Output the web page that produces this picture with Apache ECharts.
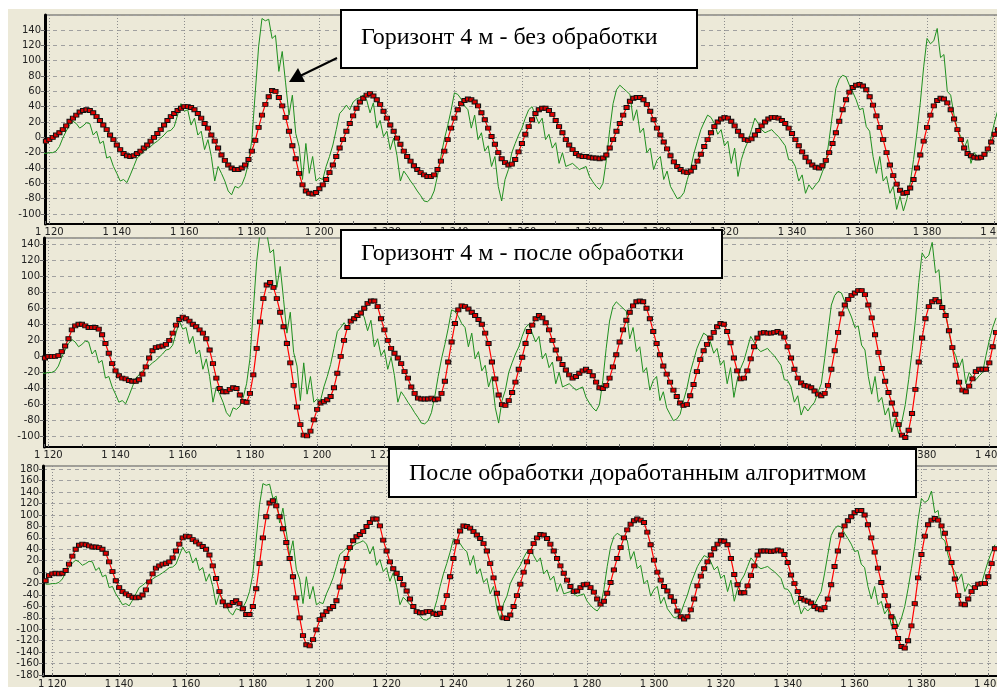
<!DOCTYPE html>
<html>
<head>
<meta charset="UTF-8">
<title>Горизонт 4 м</title>
<script src="https://cdn.jsdelivr.net/npm/echarts/dist/echarts.min.js"></script>
<style>
  html, body { margin: 0; padding: 0; background: #fff; }
  #bg { position: absolute; left: 8px; top: 9px; width: 989px; height: 678px; background: #ece9d8; }
  #main { position: absolute; left: 0; top: 0; width: 997px; height: 687px; }
</style>
</head>
<body>
<div id="bg"></div>
<div id="main"></div>
<script type="text/javascript">
// first sample is x = 1118, one sample per unit
var START_X = 1118;

// raw signal (green), the same in all three panels
var rawValues = [
  -21, -21, -20, -20, -18, -12, -1, 8, 16, 21,
  18, 12, 15, 19, 18, 3, 8, -8, -5, -27,
  -25, -38, -47, -57, -55, -59, -49, -38, -27, -23,
  -18, -15, -12, -8, -5, -1, 3, 8, 9, 14,
  29, 44, 34, 36, 16, 25, 3, 8, -16, -3,
  -25, -57, -38, -47, -57, -70, -75, -64, -66, -62,
  -51, -34, -3, 58, 118, 155, 152, 154, 129, 133,
  86, 112, 71, 29, 55, 5, -12, -55, -8, -47,
  -25, -57, -53, -55, -38, -25, -10, 10, 31, 36,
  42, 36, 46, 50, 52, 55, 49, 32, 45, 12,
  22, 1, 8, -16, -1, -24, -57, -44, -50, -57,
  -63, -70, -76, -83, -84, -80, -70, -50, -25, -3,
  15, 35, 58, 56, 50, 41, 36, 12, 29, -3,
  6, -18, -11, -38, -25, -64, -83, -55, -42, -20,
  -8, 3, 12, 25, 36, 40, 29, 18, 25, -3,
  4, -14, -7, -34, -20, -38, -36, -34, -38, -42,
  -40, -38, -51, -58, -64, -68, -60, -30, 10, 44,
  62, 68, 64, 60, 56, 22, 36, 6, 12, -20,
  -14, -42, -30, -25, -55, -44, -64, -72, -80, -78,
  -72, -55, -40, -20, -5, 10, 20, 29, 26, 18,
  4, 10, -11, -5, -34, -14, -51, -29, -15, -5,
  10, 25, 18, 10, 6, 8, 10, 5, 1, -5,
  -11, -29, -30, -38, -57, -49, -73, -62, -68, -62,
  -57, -45, -34, -3, 31, 64, 76, 81, 79, 68,
  59, 49, 36, 38, 14, 8, -25, -47, -25, -57,
  -51, -73, -64, -94, -77, -96, -81, -60, -29, 6,
  45, 92, 129, 122, 126, 142, 104, 108, 60, 55,
  29, 10, 1, -14, -3, -34, -20, -26, -29, -24,
  -20, 1, 20, 36, 48
];

// panel 1: без обработки
var red1 = [
  -7, -5, -3, 0, 3, 6, 10, 15, 21, 25,
  29, 33, 35, 36, 35, 32, 27, 22, 16, 10,
  3, -3, -10, -16, -21, -24, -25, -24, -21, -18,
  -14, -10, -5, 0, 5, 10, 16, 22, 27, 31,
  35, 38, 40, 40, 39, 36, 31, 25, 18, 12,
  3, -5, -14, -23, -30, -36, -40, -42, -42, -40,
  -36, -29, -18, -4, 13, 29, 43, 53, 61, 60,
  52, 41, 26, 8, -11, -28, -47, -62, -70, -73,
  -74, -72, -67, -62, -55, -46, -36, -25, -14, -3,
  8, 18, 28, 38, 46, 51, 55, 57, 54, 49,
  43, 34, 25, 16, 8, -1, -9, -18, -25, -31,
  -37, -42, -46, -49, -51, -51, -49, -42, -31, -18,
  -3, 12, 25, 36, 44, 48, 50, 49, 46, 41,
  32, 23, 12, 1, -9, -20, -28, -33, -36, -35,
  -29, -19, -8, 4, 14, 23, 31, 36, 38, 38,
  35, 30, 22, 14, 6, -3, -10, -16, -21, -24,
  -25, -25, -26, -27, -27, -28, -27, -23, -14, -3,
  8, 18, 29, 39, 47, 51, 52, 52, 49, 43,
  34, 23, 12, 3, -6, -15, -24, -32, -38, -42,
  -45, -46, -44, -39, -31, -22, -12, -3, 6, 14,
  20, 24, 26, 25, 21, 15, 8, 2, -3, -4,
  -2, 3, 9, 15, 20, 24, 26, 26, 25, 22,
  18, 12, 5, -3, -11, -19, -26, -32, -36, -39,
  -40, -37, -30, -20, -8, 6, 21, 36, 49, 59,
  65, 68, 69, 67, 62, 53, 42, 28, 13, -3,
  -20, -36, -50, -61, -69, -73, -72, -66, -55, -40,
  -23, -5, 13, 29, 41, 48, 51, 50, 45, 36,
  24, 10, -3, -14, -21, -24, -26, -27, -26, -22,
  -15, -6, 4, 10, 18
];

// panel 2: после обработки
var red2 = [
  -4, -2, 0, 0, 0, 1, 6, 13, 22, 33,
  38, 40, 40, 38, 36, 36, 36, 34, 27, 16,
  4, -9, -18, -24, -27, -28, -30, -31, -31, -29,
  -22, -13, -2, 7, 11, 12, 13, 15, 20, 29,
  39, 46, 49, 47, 44, 40, 37, 33, 29, 22,
  8, -9, -27, -40, -44, -44, -41, -39, -40, -48,
  -56, -57, -46, -23, 10, 43, 72, 89, 92, 86,
  72, 55, 37, 16, -8, -36, -63, -85, -98, -99,
  -93, -79, -66, -58, -56, -54, -50, -39, -21, 0,
  20, 36, 44, 47, 51, 54, 60, 66, 69, 69,
  62, 47, 33, 20, 10, 4, -2, -9, -19, -27,
  -38, -46, -52, -53, -53, -53, -52, -54, -53, -46,
  -31, -7, 18, 41, 58, 63, 62, 59, 55, 51,
  46, 40, 29, 16, -7, -28, -48, -60, -61, -55,
  -45, -32, -16, -1, 16, 31, 39, 47, 51, 48,
  42, 33, 20, 8, -3, -10, -17, -23, -27, -25,
  -21, -18, -16, -19, -24, -32, -39, -40, -36, -27,
  -13, 2, 18, 33, 45, 55, 63, 68, 69, 68,
  60, 47, 31, 16, 2, -12, -22, -32, -42, -50,
  -58, -61, -60, -49, -35, -19, -4, 7, 15, 23,
  30, 37, 41, 40, 31, 17, -2, -18, -28, -27,
  -18, -3, 12, 23, 29, 30, 29, 29, 30, 31,
  29, 24, 12, -2, -16, -27, -33, -36, -37, -39,
  -43, -47, -49, -46, -36, -16, 7, 30, 53, 64,
  71, 76, 79, 82, 82, 77, 64, 48, 27, 5,
  -15, -31, -45, -58, -72, -85, -98, -101, -92, -71,
  -41, -7, 23, 47, 62, 68, 71, 68, 61, 51,
  32, 11, -11, -32, -42, -44, -37, -28, -19, -16,
  -16, -16, -8, 12, 30
];

// panel 3: доработанный алгоритм
var red3 = [
  -15, -6, -3, -2, -3, -2, 3, 14, 28, 40,
  47, 49, 48, 46, 44, 44, 43, 40, 33, 18,
  1, -15, -27, -34, -38, -41, -44, -45, -44, -40,
  -31, -17, -3, 7, 11, 14, 15, 18, 25, 37,
  49, 60, 63, 62, 57, 53, 49, 45, 40, 30,
  11, -11, -34, -52, -59, -58, -53, -50, -55, -64,
  -74, -74, -60, -29, 15, 60, 97, 121, 125, 116,
  97, 76, 52, 24, -8, -45, -80, -111, -127, -129,
  -118, -101, -83, -75, -69, -64, -60, -50, -26, 2,
  24, 43, 55, 62, 66, 71, 80, 87, 93, 93,
  81, 56, 37, 18, 6, -2, -11, -22, -33, -47,
  -60, -69, -71, -71, -69, -69, -72, -74, -72, -62,
  -41, -8, 24, 53, 72, 81, 80, 77, 71, 65,
  59, 50, 37, 15, -10, -37, -63, -80, -81, -75,
  -60, -41, -21, 0, 18, 36, 50, 60, 66, 65,
  59, 49, 37, 24, 11, -2, -14, -25, -34, -33,
  -27, -22, -21, -27, -35, -47, -56, -51, -37, -18,
  4, 24, 43, 60, 74, 84, 90, 93, 91, 87,
  70, 48, 21, 0, -14, -25, -33, -43, -51, -68,
  -78, -82, -78, -66, -47, -24, -7, 6, 18, 30,
  41, 49, 55, 54, 48, 24, -4, -22, -36, -36,
  -24, -6, 11, 30, 37, 37, 37, 36, 37, 39,
  37, 31, 17, -5, -20, -34, -46, -49, -51, -54,
  -60, -64, -66, -62, -47, -22, 10, 37, 65, 81,
  90, 97, 104, 108, 108, 100, 83, 60, 35, 7,
  -18, -41, -59, -78, -95, -116, -130, -133, -120, -94,
  -55, -10, 31, 63, 83, 91, 94, 91, 81, 68,
  41, 17, -12, -41, -56, -57, -47, -34, -27, -21,
  -20, -20, -8, 15, 41
];

var titles = [
  'Горизонт 4 м - без обработки',
  'Горизонт 4 м - после обработки',
  'После обработки доработанным алгоритмом'
];

function toPoints(values) {
  var pts = [];
  for (var i = 0; i < values.length; i++) {
    pts.push([START_X + i, values[i]]);
  }
  return pts;
}

function fmtX(v) {
  if (Math.abs(v % 20) > 1e-6) return '';
  return Math.floor(v / 1000) + ' ' + ('00' + (v % 1000)).slice(-3);
}
function fmtY(v) {
  if (Math.abs(v % 20) > 1e-6) return '';
  return String(v);
}

var labelFont = { fontFamily: 'DejaVu Sans', fontSize: 10, color: '#222' };

function makeX(idx, min, max) {
  return {
    type: 'value', gridIndex: idx, min: min, max: max,
    minInterval: 20, maxInterval: 20,
    axisLine: { onZero: false, lineStyle: { color: '#000', width: 2 } },
    axisTick: { show: true, inside: true, length: 3, lineStyle: { color: '#666' } },
    minorTick: { show: true, splitNumber: 2, length: 3, lineStyle: { color: '#666' } },
    axisLabel: Object.assign({ showMinLabel: false, showMaxLabel: false, margin: 3, formatter: fmtX }, labelFont),
    splitLine: { show: true, lineStyle: { color: '#8c8c8c', type: [1, 2], width: 1 } }
  };
}

function makeY(idx, min, max) {
  return {
    type: 'value', gridIndex: idx, min: min, max: max,
    minInterval: 20, maxInterval: 20, splitNumber: 14,
    axisLine: { onZero: false, lineStyle: { color: '#000', width: 3 } },
    axisTick: { show: true, length: 4, lineStyle: { color: '#666' } },
    axisLabel: Object.assign({ showMinLabel: false, showMaxLabel: false, margin: 4, formatter: fmtY }, labelFont),
    splitLine: { show: true, lineStyle: { color: '#a0a0a0', type: [4, 4], width: 1 } }
  };
}

function rawSeries(idx) {
  return {
    type: 'line', xAxisIndex: idx, yAxisIndex: idx,
    data: toPoints(rawValues),
    showSymbol: false,
    lineStyle: { color: '#1f8f1f', width: 1 },
    z: 2
  };
}

function filteredSeries(idx, values) {
  return {
    type: 'line', xAxisIndex: idx, yAxisIndex: idx,
    data: toPoints(values),
    symbol: 'rect', symbolSize: [5, 4], showAllSymbol: true,
    lineStyle: { color: '#ff0000', width: 1.2 },
    itemStyle: { color: '#e00000', borderColor: '#111', borderWidth: 1 },
    z: 3
  };
}

function titleBox(x, y, w, h, text, tx, ty) {
  return [
    { type: 'rect', z: 100, shape: { x: x, y: y, width: w, height: h },
      style: { fill: '#fff', stroke: '#000', lineWidth: 2 } },
    { type: 'text', z: 101, style: { text: text, x: tx, y: ty, fill: '#000',
      font: '24px "Liberation Serif", "Times New Roman", serif', verticalAlign: 'middle' } }
  ];
}

var myChart = echarts.init(document.getElementById('main'));

// outerBoundsMode none: keep the grid exactly where it is put, even past the right edge
var gridBase = { show: true, borderColor: '#555', borderWidth: 1, backgroundColor: 'transparent',
  width: 960, outerBoundsMode: 'none', containLabel: false };

var option = {
  animation: false,
  backgroundColor: 'transparent',
  grid: [
    Object.assign({ left: 45, top: 15, height: 209 }, gridBase),
    Object.assign({ left: 44, top: 238, height: 209 }, gridBase),
    Object.assign({ left: 43, top: 466, height: 210 }, gridBase)
  ],
  xAxis: [
    makeX(0, 1118.73, 1403.09),
    makeX(1, 1118.72, 1404.37),
    makeX(2, 1117.22, 1404.4)
  ],
  yAxis: [
    makeY(0, -113.04, 159.57),
    makeY(1, -112.8, 147.47),
    makeY(2, -181.75, 185.8)
  ],
  series: [
    rawSeries(0), filteredSeries(0, red1),
    rawSeries(1), filteredSeries(1, red2),
    rawSeries(2), filteredSeries(2, red3)
  ],
  graphic: [].concat(
    titleBox(341, 10, 356, 58, titles[0], 361, 38),
    titleBox(341, 230, 381, 48, titles[1], 361, 254),
    titleBox(389, 449, 527, 48, titles[2], 409, 474),
    [
      { type: 'line', z: 102, shape: { x1: 337, y1: 58, x2: 300, y2: 76 },
        style: { stroke: '#000', lineWidth: 2 } },
      { type: 'polygon', z: 102, shape: { points: [[289, 82], [298, 68], [305, 82]] },
        style: { fill: '#000' } }
    ]
  )
};

myChart.setOption(option);
</script>
</body>
</html>
